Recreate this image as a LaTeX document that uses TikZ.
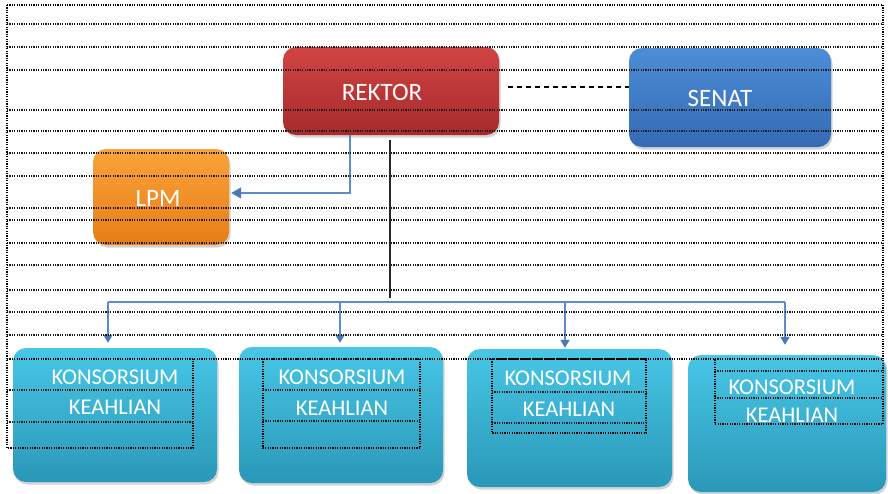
\documentclass[tikz,border=0pt]{standalone}
\usepackage{fontspec}
\setmainfont{Carlito}
\usetikzlibrary{arrows.meta,shadows}
\definecolor{redT}{HTML}{D24444}
\definecolor{redB}{HTML}{A62A2A}
\definecolor{bluT}{HTML}{4C8DD6}
\definecolor{bluB}{HTML}{356BB4}
\definecolor{orT}{HTML}{FBA33A}
\definecolor{orB}{HTML}{E67D16}
\definecolor{cyT}{HTML}{48C6E6}
\definecolor{cyB}{HTML}{2A98B8}
\definecolor{lnblue}{HTML}{5B8CCB}
\definecolor{tipblue}{HTML}{4A78B8}
\begin{document}
\begin{tikzpicture}[x=1pt,y=-1pt,
  box/.style={rounded corners=13pt, draw=none, inner sep=0pt,
    drop shadow={opacity=0.35, shadow xshift=1.5pt, shadow yshift=-2.5pt}},
  redbox/.style={box, top color=redT, bottom color=redB},
  bluebox/.style={box, top color=bluT, bottom color=bluB},
  orbox/.style={box, top color=orT, bottom color=orB},
  cybox/.style={box, top color=cyT, bottom color=cyB},
  big/.style={text=white, inner sep=0pt, font=\fontsize{25}{30}\selectfont},
  small/.style={text=white, inner sep=0pt, font=\fontsize{22.5}{27}\selectfont},
  bl/.style={draw=lnblue, line width=1.5pt},
  blarrow/.style={bl, -{Triangle[width=9pt,length=8pt,color=tipblue]}},
  blk/.style={draw=black!85, line width=1.5pt},
  dsh/.style={draw=black, line width=1.2pt, dash pattern=on 5pt off 4pt},
  rowline/.style={draw=black!90, line width=2.4pt, dash pattern=on 1.2pt off 1.2pt},
  thinline/.style={draw=black, line width=1.3pt, dash pattern=on 1.2pt off 1.2pt}]
\useasboundingbox (0,0) rectangle (888,493);

% boxes
\node[redbox, minimum width=216pt, minimum height=88pt] (rektor) at (391,91) {};
\node[bluebox, minimum width=202pt, minimum height=99pt] (senat) at (730,97.5) {};
\node[orbox, minimum width=136pt, minimum height=96pt] (lpm) at (161,197) {};
\node[cybox, minimum width=204pt, minimum height=134pt] (k1) at (115,415) {};
\node[cybox, minimum width=204pt, minimum height=136pt] (k2) at (341,415) {};
\node[cybox, minimum width=205pt, minimum height=138pt] (k3) at (569.5,418) {};
\node[cybox, minimum width=198pt, minimum height=137pt] (k4) at (787,423.5) {};

% labels
\node[big] (rektortxt) at (382,92) {REKTOR};
\node[big] (senattxt) at (720,98) {SENAT};
\node[big] (lpmtxt) at (158,198) {LPM};
\node[small] (k1a) at (115,377) {KONSORSIUM};
\node[small] (k1b) at (115,407) {KEAHLIAN};
\node[small] (k2a) at (342,377) {KONSORSIUM};
\node[small] (k2b) at (342,408) {KEAHLIAN};
\node[small] (k3a) at (568,378) {KONSORSIUM};
\node[small] (k3b) at (569,409) {KEAHLIAN};
\node[small] (k4a) at (792,387) {KONSORSIUM};
\node[small] (k4b) at (792,415) {KEAHLIAN};

% connectors
\draw[dsh] ([xshift=9pt,yshift=4pt]rektor.east) -- ([yshift=4pt]rektor.east -| senat.west);
\draw[bl, -{Triangle[width=11pt,length=10pt,color=tipblue]}] ([xshift=-41pt]rektor.south) |- ([xshift=2pt,yshift=4pt]lpm.east);
\coordinate (bus) at (390,302);
\coordinate (d1) at (108,302);
\coordinate (d2) at (340,302);
\coordinate (d3) at (565,302);
\coordinate (d4) at (785,302);
\draw[blk] ([xshift=-1pt,yshift=-5pt]rektor.south) -- ([yshift=4pt]bus);
\draw[bl] (d1) -- (d4);
\draw[blarrow] (d1) -- ([yshift=5pt]d1 |- k1.north);
\draw[blarrow] (d2) -- ([yshift=4pt]d2 |- k2.north);
\draw[blarrow] (d3) -- ([yshift=1pt]d3 |- k3.north);
\draw[blarrow] (d4) -- ([yshift=10pt]d4 |- k4.north);

% table overlay
\foreach \yy in {24,47,70,110,131,153,176,208,220,243,265,290,312,335}
  \draw[rowline] (7,\yy) -- (883,\yy);
\draw[thinline] (7,5) -- (883,5);
\draw[thinline] (7,5) -- (7,448) -- (193,448) -- (193,359);
\draw[thinline] (883,5) -- (883,424) -- (715,424) -- (715,359);
\draw[thinline] (7,359) -- (883,359);
\draw[rowline] (7,390) -- (193,390);
\draw[rowline] (7,422) -- (193,422);
\draw[thinline] (263,359) rectangle (420,448);
\draw[rowline] (263,390) -- (420,390);
\draw[rowline] (263,421) -- (420,421);
\draw[thinline] (492,359) rectangle (646,433);
\draw[rowline] (492,392) -- (646,392);
\draw[rowline] (492,423) -- (646,423);
\draw[rowline] (715,371) -- (883,371);
\draw[rowline] (715,398) -- (883,398);
\end{tikzpicture}
\end{document}
